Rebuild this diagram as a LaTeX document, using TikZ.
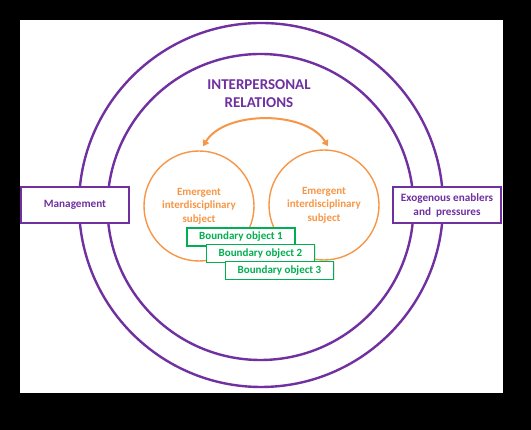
\documentclass[tikz,border=0pt]{standalone}
\usepackage{fontspec}
\setmainfont{Carlito}
\usetikzlibrary{arrows.meta,shadows}
\definecolor{purp}{HTML}{7030A0}
\definecolor{orng}{HTML}{F79646}
\definecolor{grn}{HTML}{00B050}
\tikzset{
  ring/.style={draw=purp,line width=2.4pt,circle,inner sep=0pt},
  sidebox/.style={draw=purp,line width=1.6pt,fill=white,minimum width=108pt,minimum height=36pt,inner sep=1pt,align=center,text=purp,font=\bfseries\fontsize{11.2}{14}\selectfont,drop shadow={shadow xshift=1pt,shadow yshift=-1pt,fill=black!20}},
  subj/.style={draw=orng,line width=1.4pt,circle,minimum size=110pt,inner sep=0pt,align=center,text=orng,font=\bfseries\fontsize{11}{13.5}\selectfont},
  bobj/.style={draw=grn,line width=1.1pt,fill=white,minimum width=108pt,minimum height=18pt,inner sep=0pt,text=grn,font=\bfseries\fontsize{11}{12}\selectfont,drop shadow={shadow xshift=1pt,shadow yshift=-1pt,fill=black!20}},
  title/.style={align=center,text=purp,font=\bfseries\fontsize{15}{18}\selectfont}
}
\begin{document}
\begin{tikzpicture}[x=1pt,y=1pt]
\fill[black] (0,0) rectangle (531,430);
\fill[white] (20,37) rectangle (503,410);
\useasboundingbox (0,0) rectangle (531,430);
\node[ring,minimum size=364pt] (outer) at (261,225) {};
\node[ring,minimum size=306pt] (inner) at (260.5,223) {};
\node[sidebox] (mgmt) at (75,225) {Management};
\node[sidebox] (exo) at (447,225) {Exogenous enablers\\and\ \ pressures};
\node[title] (ttl) at (259,336) {INTERPERSONAL\\RELATIONS};
\node[subj] (subjL) at (199,224) {Emergent\\interdisciplinary\\subject};
\node[subj] (subjR) at (324,225) {Emergent\\interdisciplinary\\subject};
\draw[orng,line width=2pt,{Triangle[width=7pt,length=6pt]}-{Triangle[width=7pt,length=6pt]}]
  ([xshift=4pt,yshift=4pt]subjL.north) .. controls +(22,36) and +(-22,36) .. ([xshift=4pt,yshift=3pt]subjR.north);
\node[bobj] (b1) at (241,193) {Boundary object 1};
\node[bobj] (b2) at (260.5,176.5) {Boundary object 2};
\node[bobj] (b3) at (279.5,159.5) {Boundary object 3};
\end{tikzpicture}
\end{document}
